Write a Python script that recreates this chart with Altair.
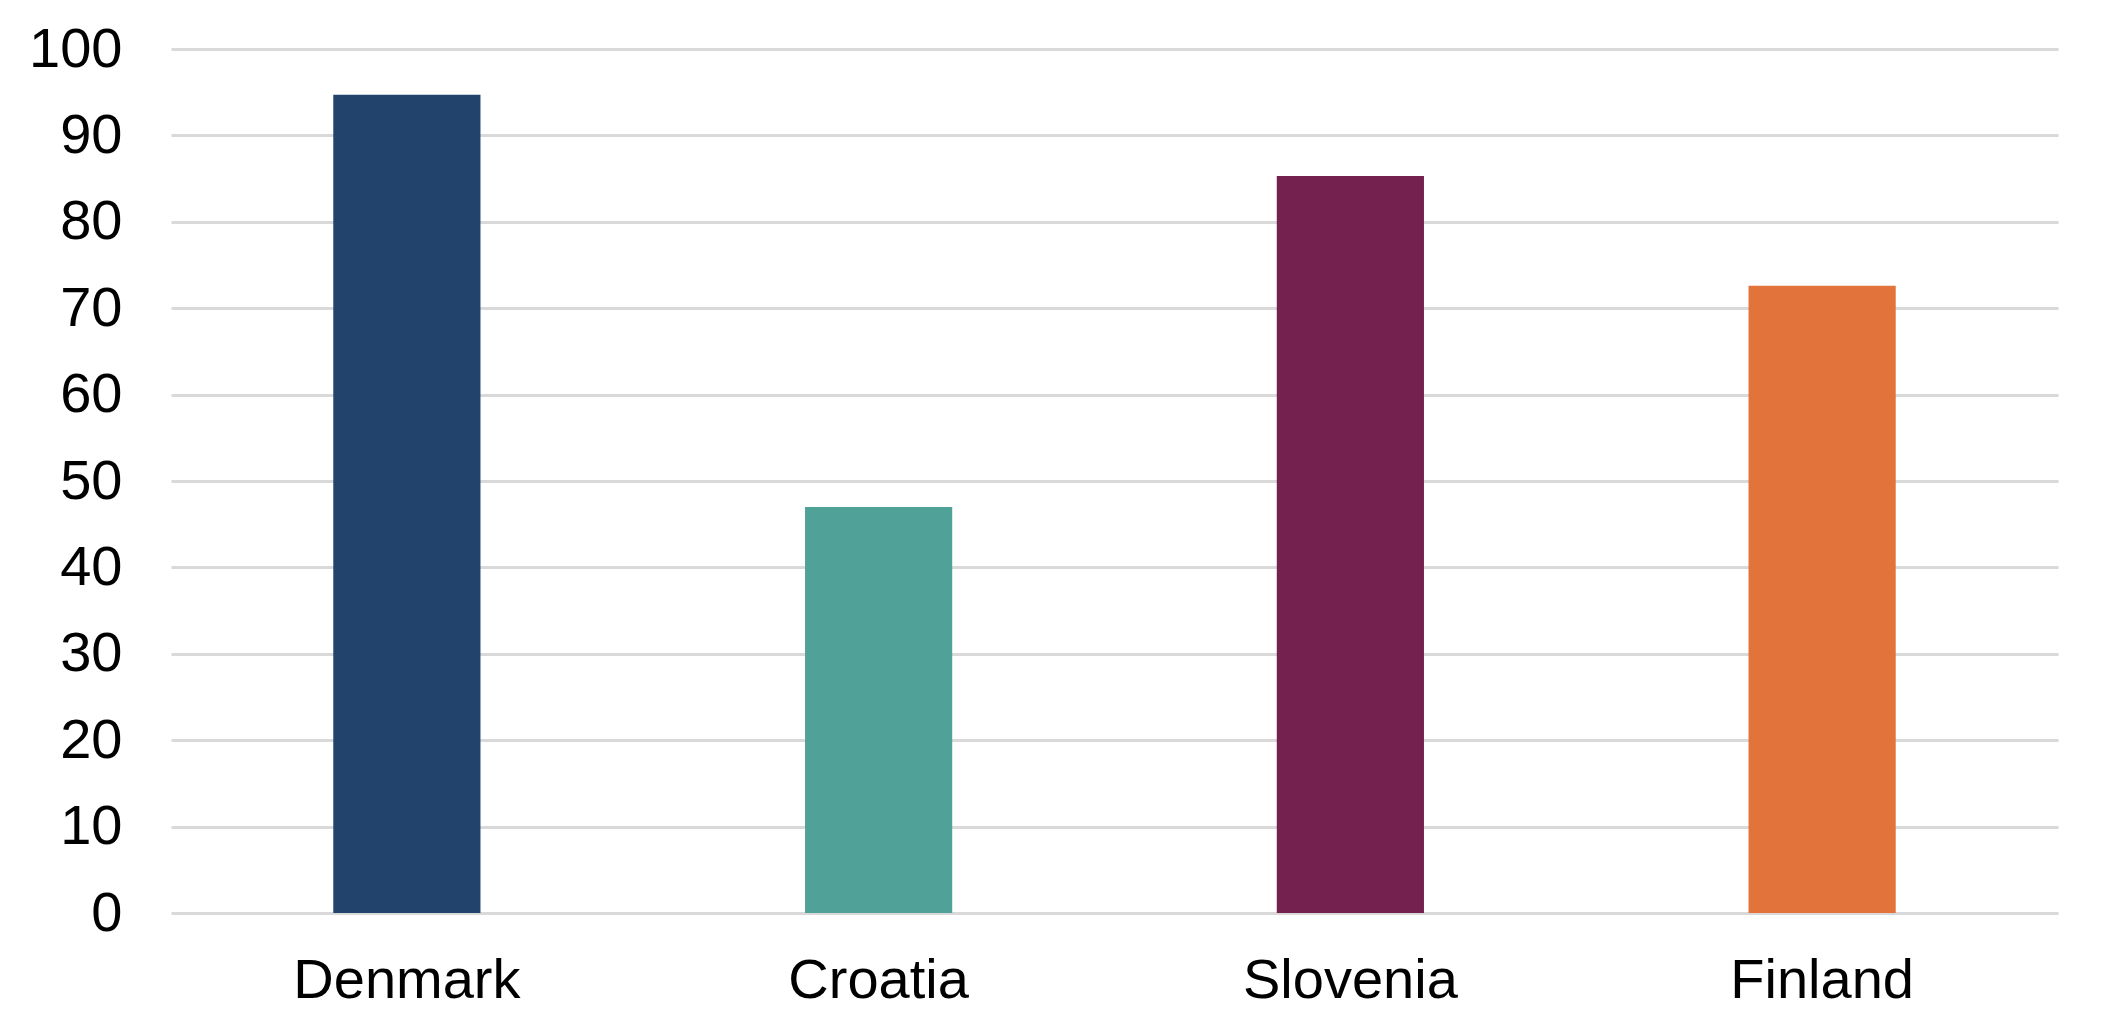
import altair as alt
import pandas as pd

countries = ["Denmark", "Croatia", "Slovenia", "Finland"]
values = [94.7, 47.0, 85.3, 72.6]
colors = ["#22436C", "#50A198", "#75214F", "#E2733B"]
y_ticks = [0, 10, 20, 30, 40, 50, 60, 70, 80, 90, 100]

df = pd.DataFrame({"country": countries, "value": values})

chart = (
    alt.Chart(df)
    .mark_bar()
    .encode(
        x=alt.X(
            "country:N",
            sort=countries,
            title=None,
            scale=alt.Scale(paddingInner=0.688, paddingOuter=0.344),
            axis=alt.Axis(
                labelAngle=0,
                labelFont="Liberation Sans",
                labelFontSize=56,
                labelColor="#000000",
                labelPadding=40,
                labelLimit=0,
                ticks=False,
                domain=False,
                grid=False,
            ),
        ),
        y=alt.Y(
            "value:Q",
            title=None,
            scale=alt.Scale(domain=[0, 100], nice=False),
            axis=alt.Axis(
                values=y_ticks,
                labelFont="Liberation Sans",
                labelFontSize=56,
                labelColor="#000000",
                labelPadding=49,
                labelLimit=0,
                ticks=False,
                domain=False,
                grid=True,
                gridColor="#D9D9D9",
                gridWidth=3,
            ),
        ),
        color=alt.Color(
            "country:N",
            scale=alt.Scale(domain=countries, range=colors),
            legend=None,
        ),
    )
    .properties(
        width=1887,
        height=864,
        background="#FFFFFF",
        autosize=alt.AutoSizeParams(type="none"),
        padding={"left": 163, "top": 41, "right": 40, "bottom": 110},
    )
    .configure_view(strokeWidth=0)
)

chart.save("out.html", embed_options={"renderer": "svg", "actions": False})
